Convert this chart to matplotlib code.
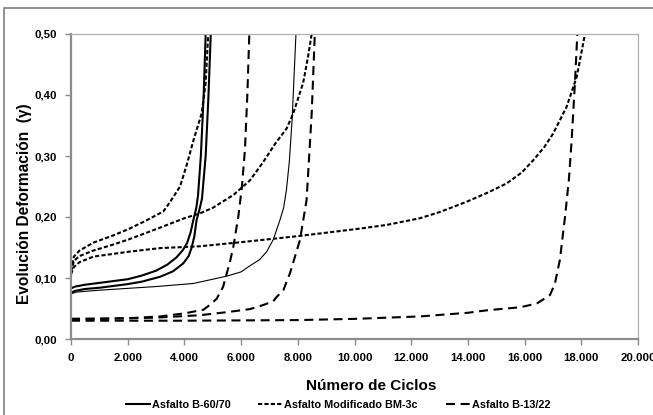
import matplotlib
matplotlib.use("Agg")
import matplotlib.pyplot as plt
from matplotlib.ticker import FuncFormatter, MultipleLocator
from matplotlib.patches import Rectangle

plt.rcParams['font.family'] = ['Liberation Sans', 'DejaVu Sans']
plt.rcParams['font.weight'] = 'bold'
plt.rcParams['lines.scale_dashes'] = False

# Asfalto B-60/70 (tres probetas)
n_b6070_1 = [0, 150, 500, 1000, 1500, 2000, 2500, 3000, 3400, 3726, 3950, 4100, 4220, 4315, 4420, 4480, 4580, 4680, 4750]
g_b6070_1 = [0.083, 0.086, 0.089, 0.092, 0.095, 0.098, 0.104, 0.112, 0.122, 0.134, 0.146, 0.158, 0.175, 0.195, 0.215, 0.235, 0.30, 0.40, 0.50]
n_b6070_2 = [0, 150, 500, 1000, 1500, 2000, 2500, 3140, 3600, 3960, 4150, 4250, 4350, 4430, 4520, 4620, 4750, 4850, 4930]
g_b6070_2 = [0.076, 0.079, 0.082, 0.084, 0.087, 0.090, 0.094, 0.102, 0.111, 0.124, 0.136, 0.149, 0.168, 0.195, 0.21, 0.23, 0.30, 0.40, 0.50]
n_b6070_3 = [0, 200, 1000, 2000, 3000, 4315, 5490, 6000, 6310, 6650, 6900, 7135, 7370, 7500, 7600, 7700, 7800, 7935]
g_b6070_3 = [0.074, 0.077, 0.080, 0.083, 0.086, 0.091, 0.103, 0.110, 0.120, 0.130, 0.143, 0.163, 0.195, 0.215, 0.245, 0.29, 0.36, 0.50]

# Asfalto Modificado BM-3c
n_bm_1 = [0, 100, 300, 790, 1500, 2020, 2600, 3255, 3500, 3845, 4080, 4315, 4610, 4750, 4840]
g_bm_1 = [0.112, 0.135, 0.145, 0.158, 0.170, 0.180, 0.193, 0.209, 0.225, 0.25, 0.285, 0.325, 0.37, 0.42, 0.50]
n_bm_2 = [0, 100, 300, 790, 1500, 2020, 3000, 4000, 4550, 5000, 5725, 6310, 6780, 7200, 7605, 7840, 8190, 8350, 8490]
g_bm_2 = [0.110, 0.128, 0.136, 0.145, 0.155, 0.163, 0.180, 0.198, 0.206, 0.215, 0.236, 0.26, 0.29, 0.32, 0.345, 0.37, 0.42, 0.46, 0.50]
n_bm_3 = [0, 100, 300, 790, 2020, 3140, 4550, 5845, 6665, 8075, 10190, 11135, 12310, 13000, 13955, 14700, 15365,
          15900, 16305, 16700, 17010, 17485, 17840, 18130]
g_bm_3 = [0.106, 0.118, 0.126, 0.135, 0.143, 0.149, 0.152, 0.158, 0.162, 0.169, 0.181, 0.187, 0.198, 0.208, 0.225, 0.24, 0.255,
          0.273, 0.293, 0.315, 0.337, 0.381, 0.43, 0.50]

# Asfalto B-13/22
n_b1322_1 = [0, 1000, 2000, 3140, 4000, 4670, 4900, 5140, 5370, 5430, 5600, 5725, 5900, 6030, 6135, 6220, 6290]
g_b1322_1 = [0.033, 0.033, 0.034, 0.037, 0.042, 0.048, 0.056, 0.066, 0.086, 0.097, 0.125, 0.151, 0.20, 0.25, 0.31, 0.40, 0.50]
n_b1322_2 = [0, 2000, 3000, 4550, 5500, 6310, 6800, 7135, 7255, 7490, 7725, 7900, 8075, 8310, 8490, 8600]
g_b1322_2 = [0.033, 0.034, 0.035, 0.039, 0.044, 0.049, 0.056, 0.062, 0.069, 0.080, 0.108, 0.135, 0.162, 0.228, 0.37, 0.50]
n_b1322_3 = [0, 4000, 8000, 10000, 12310, 14000, 14660, 15835, 16425, 16895, 17070, 17245, 17425, 17560, 17660, 17775, 17860]
g_b1322_3 = [0.030, 0.030, 0.031, 0.033, 0.037, 0.043, 0.047, 0.052, 0.058, 0.072, 0.091, 0.13, 0.20, 0.26, 0.326, 0.42, 0.50]

series = ['Asfalto B-60/70', 'Asfalto Modificado BM-3c', 'Asfalto B-13/22']

fig = plt.figure(figsize=(6.53, 4.15), dpi=100)
ax = fig.add_axes([71 / 653, 1 - 339 / 415, 567 / 653, 305 / 415])

# marco exterior del grafico
fig.patches.append(Rectangle((4 / 653, -0.1), 1.2, 1.1 - 8.5 / 415, transform=fig.transFigure,
                             fill=False, edgecolor='#7f7f7f', lw=1.2))

corto = (0, (3.0, 1.6))
largo = (0, (6.5, 4.0))

l1, = ax.plot(n_b6070_1, g_b6070_1, color='black', lw=1.5, label=series[0])
ax.plot(n_b6070_2, g_b6070_2, color='black', lw=1.5)
ax.plot(n_b6070_3, g_b6070_3, color='black', lw=0.8)

l2, = ax.plot(n_bm_1, g_bm_1, color='black', lw=1.5, linestyle=corto, label=series[1])
ax.plot(n_bm_2, g_bm_2, color='black', lw=1.5, linestyle=corto)
ax.plot(n_bm_3, g_bm_3, color='black', lw=1.5, linestyle=corto)

l3, = ax.plot(n_b1322_1, g_b1322_1, color='black', lw=1.5, linestyle=largo, label=series[2])
ax.plot(n_b1322_2, g_b1322_2, color='black', lw=1.5, linestyle=largo)
ax.plot(n_b1322_3, g_b1322_3, color='black', lw=1.5, linestyle=largo)

ax.set_xlim(0, 20000)
ax.set_ylim(0, 0.5)
ax.xaxis.set_major_locator(MultipleLocator(2000))
ax.yaxis.set_major_locator(MultipleLocator(0.1))
ax.xaxis.set_major_formatter(FuncFormatter(lambda v, p: '{:,.0f}'.format(v).replace(',', '.')))
ax.yaxis.set_major_formatter(FuncFormatter(lambda v, p: '{:.2f}'.format(v).replace('.', ',')))

for s in ['left', 'bottom']:
    ax.spines[s].set_color('#8c8c8c')
    ax.spines[s].set_linewidth(1.6)
for s in ['top', 'right']:
    ax.spines[s].set_color('#b0b0b0')
    ax.spines[s].set_linewidth(0.9)
ax.tick_params(direction='out', length=4, width=1, color='#8c8c8c', labelsize=8.2, pad=6)
ax.tick_params(axis='y', pad=6)

ax.set_xlabel('Número de Ciclos', fontsize=11, fontweight='bold')
ax.xaxis.set_label_coords(0.53, -0.13)
ax.set_ylabel('Evolución Deformación  (γ)', fontsize=11.2, fontweight='bold')
ax.yaxis.set_label_coords(-0.069, 0.443)

fig.legend(handles=[l1, l2, l3], loc='center', bbox_to_anchor=(338 / 653, 1 - 405 / 415), ncol=3,
           frameon=False, fontsize=7.8, handlelength=2.3, handletextpad=0.1, columnspacing=2.6)

fig.savefig('out.png', dpi=100)
